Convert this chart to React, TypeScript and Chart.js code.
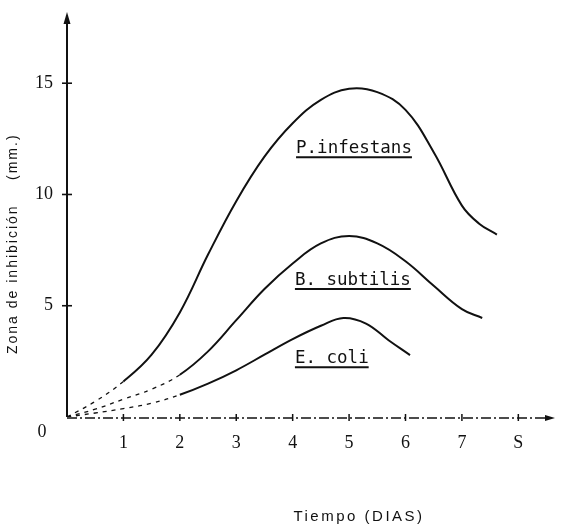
import React, { useEffect, useRef } from "react";
import { Chart, registerables } from "chart.js";

Chart.register(...registerables);

// ---- data ----
const pInfestansX = [0, 0.5, 1.0, 1.5, 2.0, 2.5, 3.0, 3.5, 4.0, 4.5, 5.0, 5.5, 6.0, 6.5, 7.0, 7.3, 7.62];
const pInfestansY = [0, 0.7, 1.6, 2.8, 4.7, 7.3, 9.7, 11.7, 13.2, 14.25, 14.75, 14.6, 13.8, 11.9, 9.5, 8.7, 8.2];

const bSubtilisX = [0, 0.5, 1.0, 1.5, 2.0, 2.5, 3.0, 3.5, 4.0, 4.5, 5.0, 5.5, 6.0, 6.5, 7.0, 7.36];
const bSubtilisY = [0, 0.35, 0.8, 1.25, 1.9, 2.95, 4.35, 5.75, 6.9, 7.8, 8.13, 7.8, 7.0, 5.9, 4.85, 4.45];

const eColiX = [0, 0.5, 1.0, 1.5, 2.0, 2.5, 3.0, 3.5, 4.0, 4.5, 4.9, 5.3, 5.7, 6.08];
const eColiY = [0, 0.18, 0.38, 0.62, 1.0, 1.5, 2.1, 2.8, 3.5, 4.1, 4.45, 4.2, 3.45, 2.78];

const seriesNames = ["P.infestans", "B. subtilis", "E. coli"];
const dashedUntil = [1.0, 2.0, 2.0];

const xTickValues = [1, 2, 3, 4, 5, 6, 7, 8];
const xTickLabels = ["1", "2", "3", "4", "5", "6", "7", "S"];
const yTickValues = [0, 5, 10, 15];
const yTickLabels = ["0", "5", "10", "15"];

const xTitle = "Tiempo (DIAS)";
const yTitle = "Zona de inhibición";
const yUnit = "(mm.)";

// label anchors in data units (left edge / baseline)
const labelAnchorX = [4.06, 4.04, 4.04];
const labelAnchorY = [11.85, 5.93, 2.42];

const X_MAX = 8.65;
const Y_MAX = 18.2;
const INK = "#111";

const decorPlugin = {
  id: "decor",
  afterDraw(chart: any) {
    const { ctx, chartArea, scales } = chart;
    const xs = scales.x;
    const ys = scales.y;
    const x0 = xs.getPixelForValue(0);
    const y0 = ys.getPixelForValue(0);
    ctx.save();
    ctx.strokeStyle = INK;
    ctx.fillStyle = INK;

    // y axis
    ctx.lineWidth = 2;
    ctx.setLineDash([]);
    ctx.beginPath();
    ctx.moveTo(x0, y0);
    ctx.lineTo(x0, chartArea.top + 4);
    ctx.stroke();
    ctx.beginPath();
    ctx.moveTo(x0, chartArea.top);
    ctx.lineTo(x0 - 3.5, chartArea.top + 12);
    ctx.lineTo(x0 + 3.5, chartArea.top + 12);
    ctx.closePath();
    ctx.fill();
    // y ticks (crosses)
    ctx.lineWidth = 1.6;
    yTickValues.forEach((v) => {
      if (v === 0) return;
      const y = ys.getPixelForValue(v);
      ctx.beginPath();
      ctx.moveTo(x0 - 5, y);
      ctx.lineTo(x0 + 5, y);
      ctx.stroke();
    });
    // origin label sits a little below the axis in the original
    ctx.font = "18px 'Liberation Serif'";
    ctx.textAlign = "center";
    ctx.textBaseline = "middle";
    ctx.fillText(yTickLabels[0], x0 - 25, y0 + 15);

    // x axis (dash-dot)
    ctx.lineWidth = 1.5;
    ctx.setLineDash([10, 3, 2, 3]);
    ctx.beginPath();
    ctx.moveTo(x0, y0 + 1);
    ctx.lineTo(chartArea.right - 6, y0 + 1);
    ctx.stroke();
    ctx.setLineDash([]);
    ctx.beginPath();
    ctx.moveTo(chartArea.right, y0 + 1);
    ctx.lineTo(chartArea.right - 10, y0 - 2);
    ctx.lineTo(chartArea.right - 10, y0 + 4);
    ctx.closePath();
    ctx.fill();
    // x ticks
    ctx.lineWidth = 1.5;
    xTickValues.forEach((v) => {
      const x = xs.getPixelForValue(v);
      ctx.beginPath();
      ctx.moveTo(x, y0 - 3);
      ctx.lineTo(x, y0 + 4);
      ctx.stroke();
    });

    // series labels with underline
    ctx.font = "17.5px 'DejaVu Sans Mono'";
    ctx.textAlign = "left";
    ctx.textBaseline = "alphabetic";
    seriesNames.forEach((name, i) => {
      const lx = xs.getPixelForValue(labelAnchorX[i]);
      const ly = ys.getPixelForValue(labelAnchorY[i]);
      ctx.fillText(name, lx, ly);
      const w = ctx.measureText(name).width;
      ctx.lineWidth = 2;
      ctx.beginPath();
      ctx.moveTo(lx, ly + 4);
      ctx.lineTo(lx + w, ly + 4);
      ctx.stroke();
    });

    // axis titles
    (ctx as any).letterSpacing = "2.5px";
    ctx.font = "15px 'Liberation Sans'";
    ctx.textAlign = "center";
    ctx.textBaseline = "middle";
    ctx.fillText(xTitle, 359, 517);

    (ctx as any).letterSpacing = "2px";
    ctx.font = "14px 'Liberation Sans'";
    ctx.translate(13, 0);
    ctx.rotate(-Math.PI / 2);
    ctx.textAlign = "left";
    ctx.fillText(yTitle, -354, 0);
    ctx.fillText(yUnit, -180, 0);
    ctx.restore();
  },
};

export default function App() {
  const ref = useRef<HTMLCanvasElement | null>(null);

  useEffect(() => {
    if (!ref.current) return;
    const mk = (xsArr: number[], ysArr: number[], i: number) => ({
      label: seriesNames[i],
      data: xsArr.map((x, k) => ({ x, y: ysArr[k] })),
      borderColor: INK,
      borderWidth: 2,
      pointRadius: 0,
      fill: false,
      tension: 0.4,
      segment: {
        borderDash: (c: any) => (c.p1.parsed.x <= dashedUntil[i] ? [4, 5] : undefined),
        borderWidth: (c: any) => (c.p1.parsed.x <= dashedUntil[i] ? 1.3 : 2),
      },
    });
    const chart = new Chart(ref.current, {
      type: "line",
      data: {
        datasets: [
          mk(pInfestansX, pInfestansY, 0),
          mk(bSubtilisX, bSubtilisY, 1),
          mk(eColiX, eColiY, 2),
        ],
      },
      options: {
        responsive: false,
        animation: false,
        layout: { padding: { top: 12, right: 6, left: 0, bottom: 0 } },
        plugins: { legend: { display: false }, tooltip: { enabled: false } },
        scales: {
          x: {
            type: "linear",
            min: 0,
            max: X_MAX,
            grid: { display: false, drawTicks: false },
            border: { display: false },
            ticks: {
              padding: 15,
              color: INK,
              font: { family: "'Liberation Serif'", size: 18 },
              autoSkip: false,
              maxRotation: 0,
              callback: (v: any) => {
                const k = xTickValues.indexOf(Number(v));
                return k >= 0 ? xTickLabels[k] : "";
              },
            },
            afterBuildTicks: (s: any) => {
              s.ticks = xTickValues.map((v) => ({ value: v }));
            },
            afterFit: (s: any) => {
              s.height = 114;
              s.paddingLeft = 0;
              s.paddingRight = 0;
            },
          },
          y: {
            type: "linear",
            min: 0,
            max: Y_MAX,
            grid: { display: false, drawTicks: false },
            border: { display: false },
            ticks: {
              padding: 14,
              color: INK,
              font: { family: "'Liberation Serif'", size: 18 },
              autoSkip: false,
              callback: (v: any) => {
                const k = yTickValues.indexOf(Number(v));
                return k > 0 ? yTickLabels[k] : "";
              },
            },
            afterBuildTicks: (s: any) => {
              s.ticks = yTickValues.map((v) => ({ value: v }));
            },
            afterFit: (s: any) => {
              s.width = 67;
              s.paddingTop = 0;
              s.paddingBottom = 0;
            },
          },
        },
      },
      plugins: [decorPlugin],
    });
    return () => chart.destroy();
  }, []);

  return (
    <div style={{ position: "absolute", left: 0, top: 0, width: 561, height: 531, background: "#fff" }}>
      <canvas ref={ref} width={561} height={531} style={{ display: "block" }} />
    </div>
  );
}
